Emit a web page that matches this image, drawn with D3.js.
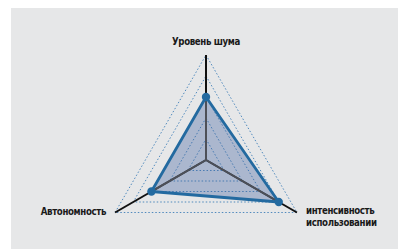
<!DOCTYPE html>
<meta charset="utf-8">
<style>
body { margin: 0; background: #fff; }
.label { font-family: "Liberation Sans Narrow", "DejaVu Sans Condensed", sans-serif; font-weight: bold; font-size: 9.6px; letter-spacing: -0.35px; fill: #1a1a1a; }
</style>
<body>
<svg width=398 height=249></svg>
</body>
<script src="https://d3js.org/d3.v7.min.js"></script>
<script>
const axesNames = [["Уровень шума"], ["интенсивность", "использовании"], ["Автономность"]]
const values = [3, 4, 3]
const levels = [1, 2, 3, 4, 5]
const maxValue = 5

const svg = d3.select("svg")
const cx = 206, cy = 160, radius = 105

svg.append("rect")
  .attr("x", 11).attr("y", 8).attr("width", 387).attr("height", 241)
  .attr("fill", "#e6e7e8")

const r = d3.scaleLinear().domain([0, maxValue]).range([0, radius])
const angle = (i) => -Math.PI / 2 + i * 2 * Math.PI / axesNames.length
const pt = (i, v) => [cx + r(v) * Math.cos(angle(i)), cy + r(v) * Math.sin(angle(i))]
const line = d3.line().curve(d3.curveLinearClosed)

// grid triangles
svg.append("g").selectAll("path")
  .data(levels)
  .join("path")
    .attr("d", (l) => line(axesNames.map((_, i) => pt(i, l))))
    .attr("fill", "none")
    .attr("stroke", "#3f7fb8")
    .attr("stroke-width", 0.9)
    .attr("stroke-dasharray", "1.5,2")

// axes
svg.append("g").selectAll("line")
  .data(axesNames)
  .join("line")
    .attr("x1", cx).attr("y1", cy)
    .attr("x2", (_, i) => pt(i, maxValue)[0])
    .attr("y2", (_, i) => pt(i, maxValue)[1])
    .attr("stroke", "#111")
    .attr("stroke-width", 2)

const poly = values.map((v, i) => pt(i, v))

svg.append("clipPath").attr("id", "inside")
  .append("path").attr("d", line(poly))

svg.append("path")
  .attr("d", line(poly))
  .attr("fill", "#3d5f9e")
  .attr("fill-opacity", 0.35)

// axes inside the area look grey
svg.append("g").attr("clip-path", "url(#inside)")
  .selectAll("line")
  .data(axesNames)
  .join("line")
    .attr("x1", cx).attr("y1", cy)
    .attr("x2", (_, i) => pt(i, maxValue)[0])
    .attr("y2", (_, i) => pt(i, maxValue)[1])
    .attr("stroke", "#4d5058")
    .attr("stroke-width", 2)

svg.append("path")
  .attr("d", line(poly))
  .attr("fill", "none")
  .attr("stroke", "#236aa0")
  .attr("stroke-width", 2.8)
  .attr("stroke-linejoin", "round")

svg.append("g").selectAll("circle")
  .data(poly)
  .join("circle")
    .attr("cx", (d) => d[0]).attr("cy", (d) => d[1])
    .attr("r", 4.2)
    .attr("fill", "#236aa0")

// labels
const labelPos = [
  {x: 206, y: 45, anchor: "middle"},
  {x: 306, y: 214, anchor: "start"},
  {x: 106, y: 215, anchor: "end"}
]
axesNames.forEach((lines, i) => {
  const t = svg.append("text")
    .attr("class", "label")
    .attr("text-anchor", labelPos[i].anchor)
  lines.forEach((s, j) => {
    t.append("tspan")
      .attr("x", labelPos[i].x)
      .attr("y", labelPos[i].y + j * 11.7)
      .text(s)
  })
})
</script>
